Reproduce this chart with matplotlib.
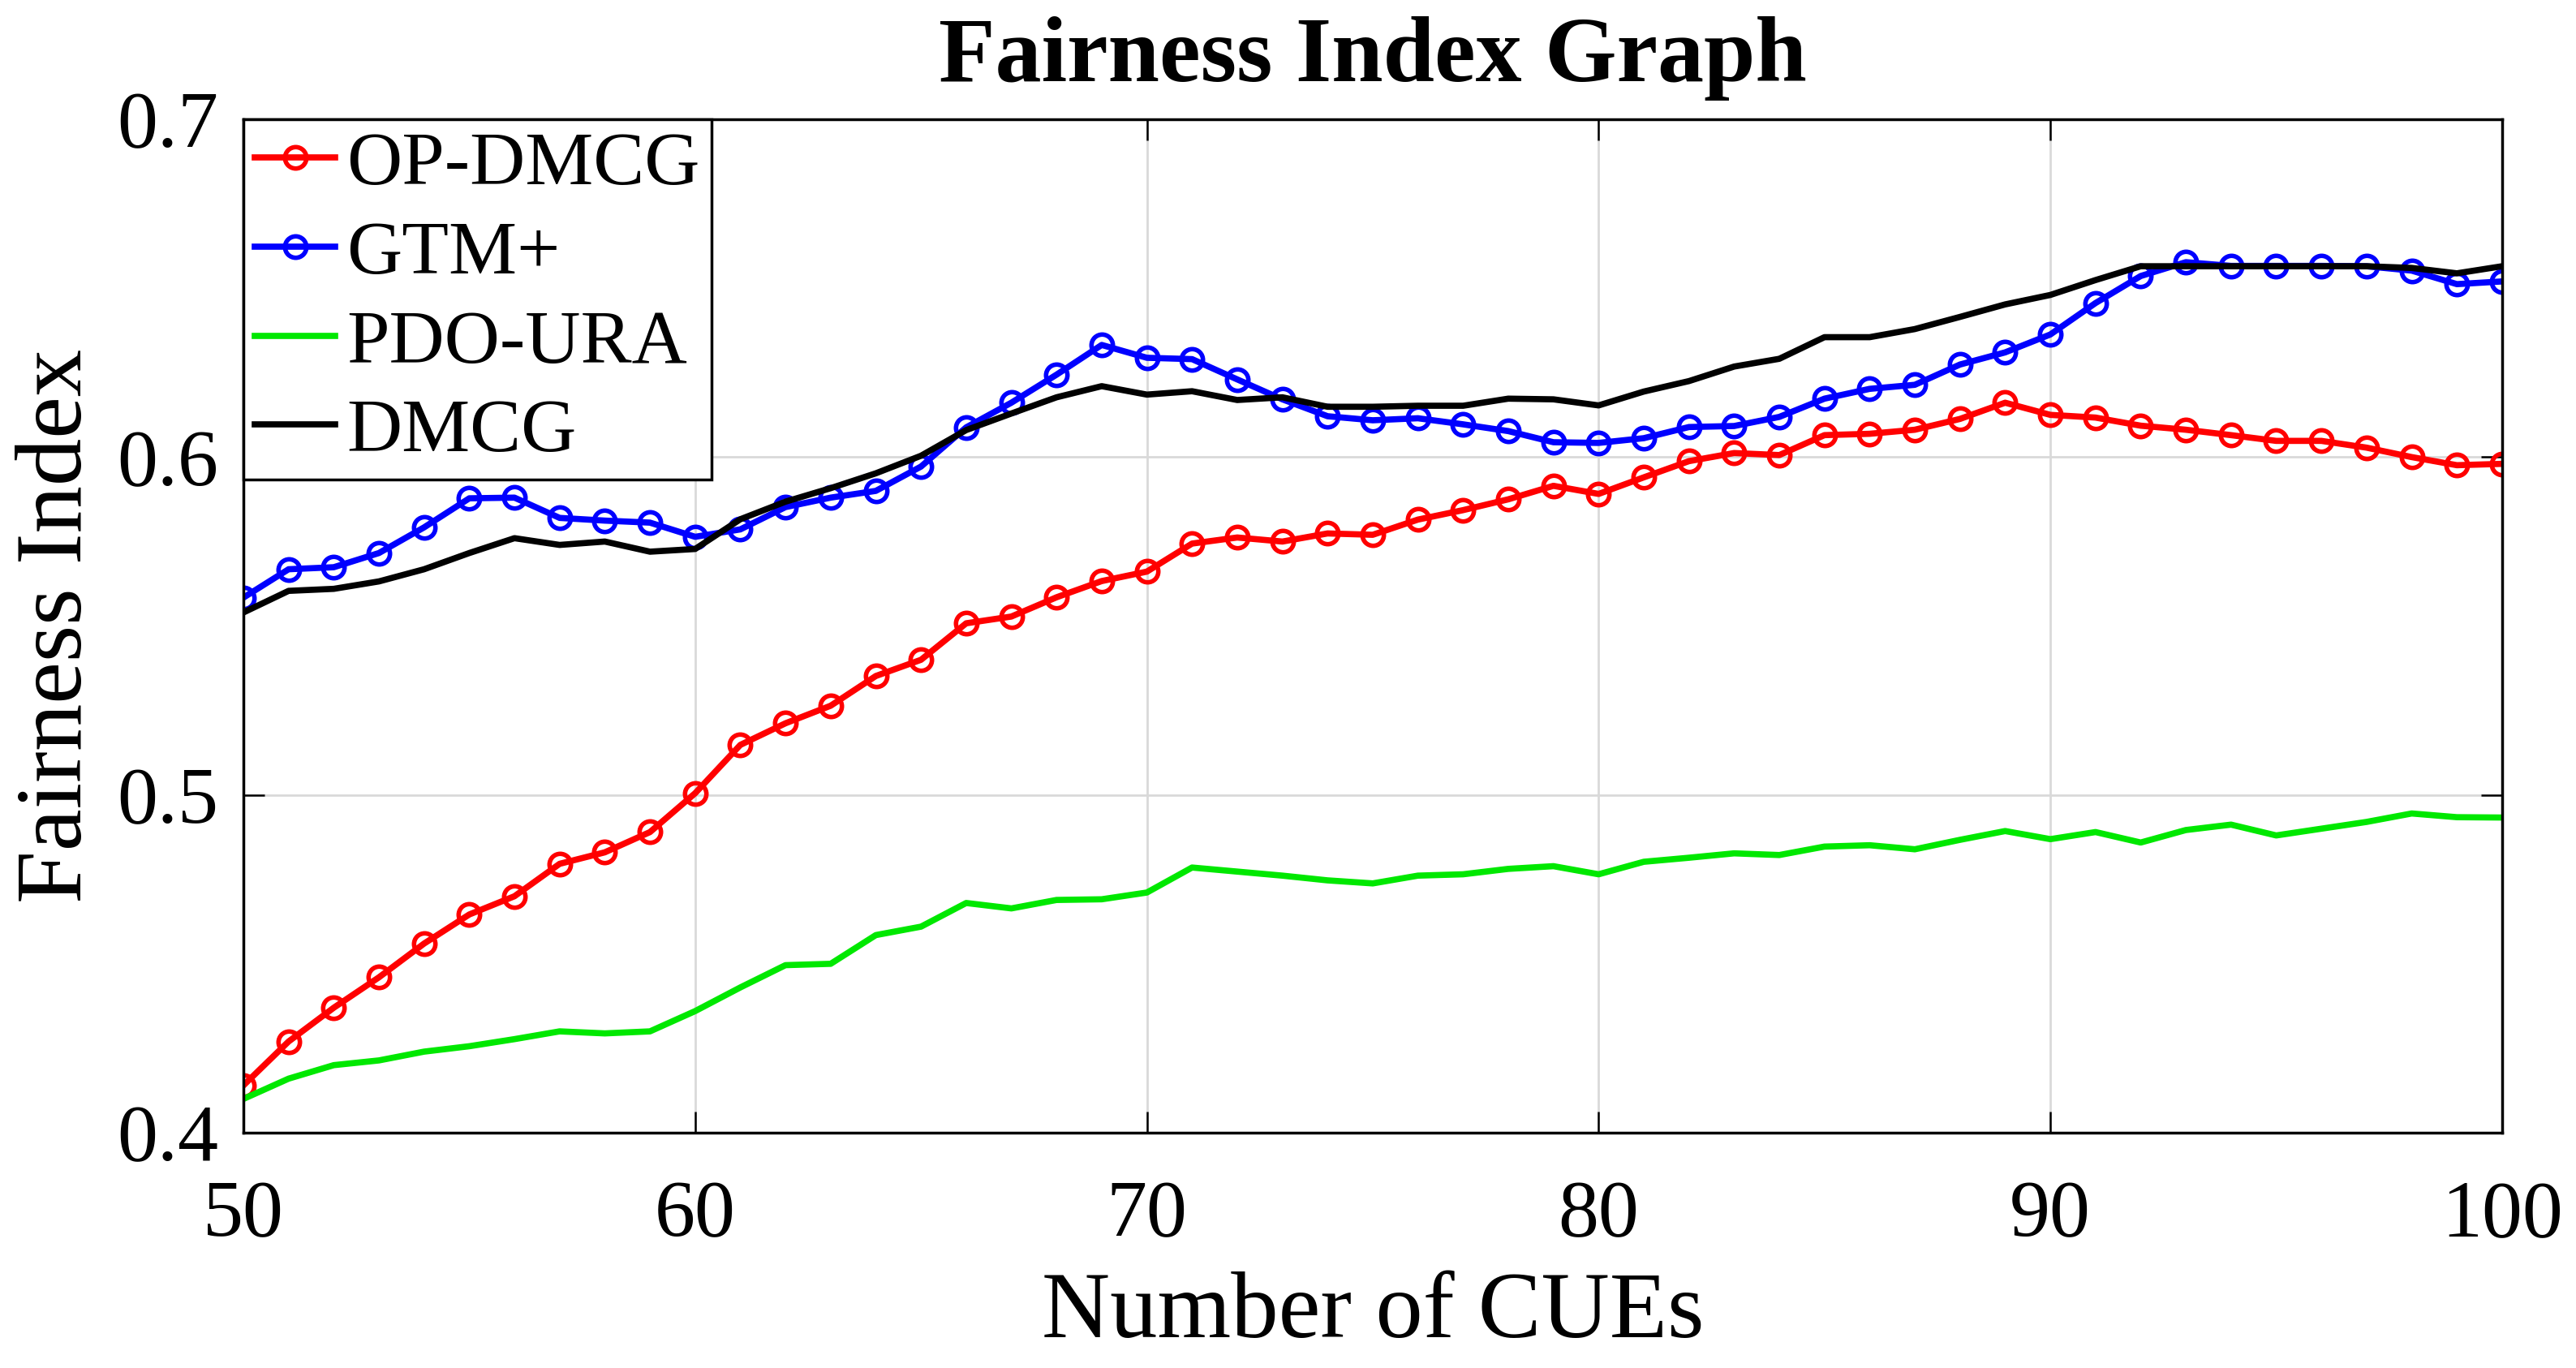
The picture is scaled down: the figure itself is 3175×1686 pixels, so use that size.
import numpy as np
import matplotlib
matplotlib.use('Agg')
import matplotlib.pyplot as plt
from matplotlib.ticker import MultipleLocator

# data
cues = np.arange(50, 101)

op_dmcg = [0.414, 0.427, 0.437, 0.446, 0.456, 0.4646, 0.470, 0.4796, 0.483, 0.489,
           0.5005, 0.5148, 0.5212, 0.5264, 0.5352, 0.540, 0.5508, 0.5528, 0.5585, 0.5633,
           0.5661, 0.5744, 0.5762, 0.575, 0.5774, 0.577, 0.5815, 0.5843, 0.5875, 0.5915,
           0.5891, 0.594, 0.5988, 0.6012, 0.6006, 0.6065, 0.6069, 0.6081, 0.6113, 0.6161,
           0.6125, 0.6117, 0.6093, 0.6081, 0.6065, 0.6048, 0.6048, 0.6028, 0.600, 0.5976,
           0.598]

gtm_plus = [0.5584, 0.5668, 0.5674, 0.5716, 0.5792, 0.5878, 0.588, 0.582, 0.5812, 0.5806,
            0.5764, 0.5786, 0.5852, 0.588, 0.590, 0.5972, 0.6088, 0.6161, 0.6244, 0.6332,
            0.6294, 0.629, 0.623, 0.6171, 0.6121, 0.6109, 0.6115, 0.6097, 0.6077, 0.6044,
            0.6042, 0.6056, 0.6089, 0.6092, 0.6119, 0.6173, 0.6202, 0.6214, 0.6274, 0.631,
            0.6363, 0.6456, 0.6536, 0.6577, 0.6566, 0.6566, 0.6566, 0.6565, 0.6552, 0.6512,
            0.652]

pdo_ura = [0.410, 0.416, 0.420, 0.4214, 0.424, 0.4256, 0.4277, 0.430, 0.4294, 0.430,
           0.436, 0.443, 0.4496, 0.450, 0.4585, 0.461, 0.468, 0.4664, 0.4689, 0.4691,
           0.4711, 0.4785, 0.4773, 0.4761, 0.4747, 0.4738, 0.4761, 0.4765, 0.4781, 0.4789,
           0.4765, 0.4802, 0.4814, 0.4827, 0.4822, 0.4847, 0.4851, 0.4839, 0.4867, 0.4893,
           0.4869, 0.4890, 0.4859, 0.4896, 0.4912, 0.4880, 0.4900, 0.4920, 0.4945, 0.4934,
           0.4933]

dmcg = [0.554, 0.5604, 0.561, 0.5632, 0.5668, 0.5716, 0.576, 0.574, 0.575, 0.572,
        0.5728, 0.5816, 0.5868, 0.5908, 0.5952, 0.6004, 0.608, 0.6129, 0.6177, 0.621,
        0.6185, 0.6195, 0.6169, 0.6177, 0.6149, 0.6149, 0.6152, 0.6152, 0.6173, 0.6171,
        0.6153, 0.6194, 0.6225, 0.6268, 0.6291, 0.6355, 0.6355, 0.6379, 0.6415, 0.6452,
        0.648, 0.6524, 0.6565, 0.6565, 0.6565, 0.6565, 0.6565, 0.6565, 0.656, 0.6544,
        0.6565]

yticks = [0.4, 0.5, 0.6, 0.7]
ytick_labels = ['0.4', '0.5', '0.6', '0.7']

plt.rcParams['font.family'] = ['Liberation Serif', 'DejaVu Serif']

fig = plt.figure(figsize=(31.75, 16.86), dpi=100)
ax = fig.add_axes([0.0945, 0.172, 0.8768, 0.7408])

ax.plot(cues, op_dmcg, color='#ff0000', lw=5.5, marker='o', ms=19, mfc='none',
        mew=4, label='OP-DMCG')
ax.plot(cues, gtm_plus, color='#0000ff', lw=5.5, marker='o', ms=19, mfc='none',
        mew=4, label='GTM+')
ax.plot(cues, pdo_ura, color='#00e800', lw=5.5, label='PDO-URA')
ax.plot(cues, dmcg, color='black', lw=5.5, label='DMCG')

ax.set_xlim(50, 100)
ax.set_ylim(0.4, 0.7)
ax.xaxis.set_major_locator(MultipleLocator(10))
ax.set_yticks(yticks)
ax.set_yticklabels(ytick_labels)
ax.grid(True, color='#d9d9d9', lw=2)
ax.set_axisbelow(True)
ax.tick_params(direction='in', length=19, width=1.8, labelsize=72,
               top=True, right=True)
ax.tick_params(axis='x', pad=42)
ax.tick_params(axis='y', pad=22)
for s in ax.spines.values():
    s.set_linewidth(2.5)

ax.set_xlabel('Number of CUEs', fontsize=84, labelpad=16)
ax.set_ylabel('Fairness Index', fontsize=84, labelpad=14)
ax.set_title('Fairness Index Graph', fontsize=82, fontweight='bold', pad=34)

leg = ax.legend(loc='upper left', fontsize=68, borderaxespad=0, fancybox=False,
                framealpha=1, edgecolor='black', handlelength=1.05,
                handletextpad=0.15, labelspacing=0.25, borderpad=0.15)
leg.get_frame().set_linewidth(2.5)

plt.savefig('out.png', dpi=100)
